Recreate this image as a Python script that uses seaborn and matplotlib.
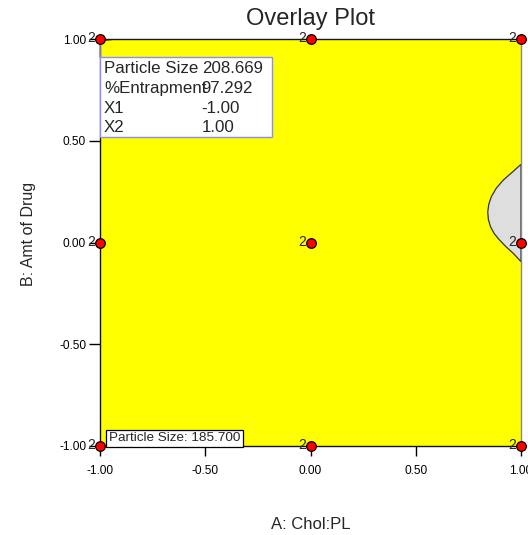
import numpy as np
import pandas as pd
import seaborn as sns
import matplotlib.pyplot as plt
from matplotlib.patches import Rectangle

# design points (3x3 factorial, each run twice)
design_x = [-1.0, 0.0, 1.0, -1.0, 0.0, 1.0, -1.0, 0.0, 1.0]
design_y = [1.0, 1.0, 1.0, 0.0, 0.0, 0.0, -1.0, -1.0, -1.0]
design_reps = ['2', '2', '2', '2', '2', '2', '2', '2', '2']

# non-feasible (grey) region at the right edge
boundary_x = [1.0, 0.958, 0.916, 0.882, 0.859, 0.847, 0.842, 0.845, 0.855,
              0.872, 0.898, 0.929, 0.963, 1.0]
boundary_y = [0.384, 0.345, 0.307, 0.266, 0.225, 0.188, 0.151, 0.113, 0.078,
              0.045, 0.012, -0.021, -0.053, -0.094]

# tiny sliver at the top-left corner
corner_x = [-1.0, -0.921, -1.0]
corner_y = [1.0, 1.0, 0.99]

# flag box
flag_labels = ['Particle Size', '%Entrapment', 'X1', 'X2']
flag_values = ['208.669', '97.292', '-1.00', '1.00']
contour_label = 'Particle Size: 185.700'

ticks = [-1.0, -0.5, 0.0, 0.5, 1.0]
tick_labels = ['-1.00', '-0.50', '0.00', '0.50', '1.00']

df = pd.DataFrame({'A': design_x, 'B': design_y, 'reps': design_reps})

sns.set_style('white')
plt.rcParams['font.family'] = ['Liberation Sans', 'DejaVu Sans']

fig = plt.figure(figsize=(5.28, 5.35), dpi=100)
ax = fig.add_axes([100 / 528, 1 - 446 / 535, 421 / 528, 407 / 535])

# feasible region (yellow) and grey region
ax.set_facecolor('#ffff00')
ax.fill(boundary_x, boundary_y, facecolor='#dedede', edgecolor='#333333', lw=0.9, zorder=2)
ax.fill(corner_x, corner_y, facecolor='#f2f2f2', edgecolor='#333333', lw=0.8, zorder=2)

# flag box
ax.plot([-1.0, -1.0], [1.0, 0.913], color='#8c8cff', lw=1.2, zorder=3, clip_on=False)
ax.add_patch(Rectangle((-1.0, 0.517), 0.817, 0.396, facecolor='white',
                       edgecolor='#8c8cff', lw=1.0, zorder=4))
row_y = [0.856, 0.758, 0.659, 0.564]
for lab, val, yy in zip(flag_labels, flag_values, row_y):
    ax.text(-0.981, yy, lab, fontsize=12.2, va='center', ha='left', zorder=5)
    ax.text(-0.517, yy, val, fontsize=12.2, va='center', ha='left', zorder=5)

# contour label at the bottom
ax.text(-0.958, -0.962, contour_label, fontsize=9.7, va='center', ha='left', zorder=5,
        bbox=dict(boxstyle='square,pad=0.18', facecolor='white', edgecolor='black', lw=0.9))

# design points
sns.scatterplot(data=df, x='A', y='B', ax=ax, color='#ff0000', edgecolor='black',
                linewidth=0.9, s=48, zorder=6, clip_on=False, legend=False)
for xx, yy, r in zip(df['A'], df['B'], df['reps']):
    ax.annotate(r, (xx, yy), xytext=(-3.5, 0.5), textcoords='offset points',
                ha='right', va='center', fontsize=10, zorder=6, annotation_clip=False)

ax.set_xlim(-1, 1)
ax.set_ylim(-1, 1)
ax.set_xticks(ticks)
ax.set_xticklabels(tick_labels)
ax.set_yticks(ticks)
ax.set_yticklabels(tick_labels)
ax.tick_params(axis='x', direction='out', length=7, width=1, pad=7, labelsize=8.6, colors='black')
ax.tick_params(axis='y', direction='out', length=8, width=1, pad=2, labelsize=8.6, colors='black')
ax.xaxis.set_ticks_position('bottom')
ax.yaxis.set_ticks_position('left')

for side in ['top', 'bottom', 'left']:
    ax.spines[side].set_color('#111111')
    ax.spines[side].set_linewidth(1.0)
ax.spines['right'].set_color('#888888')
ax.spines['right'].set_linewidth(1.0)

ax.set_title('Overlay Plot', fontsize=17, pad=10)
ax.set_xlabel('A: Chol:PL', fontsize=12)
ax.set_ylabel('B: Amt of Drug', fontsize=11.5)
ax.xaxis.set_label_coords(0.5, -0.175)
ax.yaxis.set_label_coords(-0.152, 0.52)

fig.savefig('out.png', dpi=100, facecolor='white')
